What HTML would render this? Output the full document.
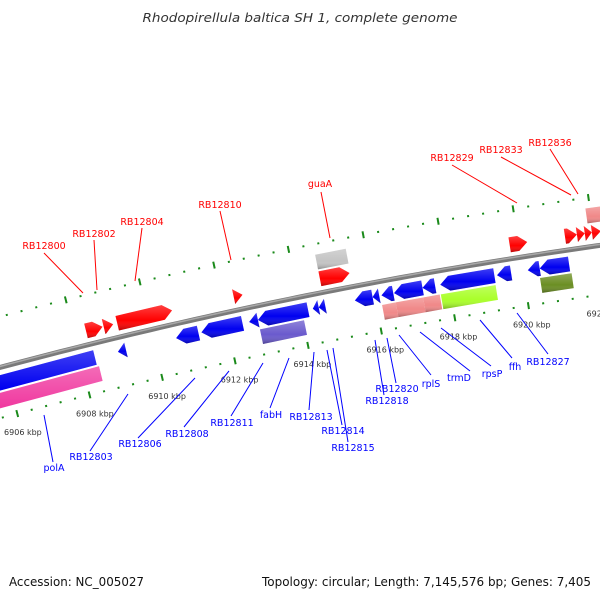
<!DOCTYPE html>
<html><head><meta charset="utf-8"><style>
html,body{margin:0;padding:0;background:#fff;}
svg{display:block;font-family:"DejaVu Sans","Liberation Sans",sans-serif;}
</style></head><body>
<svg id="map" width="600" height="600" viewBox="0 0 600 600" xmlns="http://www.w3.org/2000/svg">
<defs>
<linearGradient id="gshade" x1="0" y1="0" x2="0" y2="1">
<stop offset="0" stop-color="#fff" stop-opacity="0.25"/>
<stop offset="0.6" stop-color="#fff" stop-opacity="0"/>
<stop offset="1" stop-color="#000" stop-opacity="0.3"/>
</linearGradient>
</defs>
<text x="300" y="22" text-anchor="middle" font-size="12" font-style="italic" fill="#333" textLength="315" lengthAdjust="spacingAndGlyphs">Rhodopirellula baltica SH 1, complete genome</text>
<g id="rings"></g>
<g id="backbone"></g>
<g id="genes"></g>
<g id="ticklabels"></g>
<g id="labels"></g>
<text x="9" y="586" font-size="12" fill="#111" textLength="135" lengthAdjust="spacingAndGlyphs">Accession: NC_005027</text>
<text x="591" y="586" text-anchor="end" font-size="12" fill="#111" textLength="329" lengthAdjust="spacingAndGlyphs">Topology: circular; Length: 7,145,576 bp; Genes: 7,405</text>
</svg>
<script>
// gene data (kbp)
const geneStart = [6908.32,6908.80,6909.17,6912.33,6914.66,6919.76,6921.24,6921.56,6921.77,6921.96, 6914.66,6921.88, 6903.0,6909.01,6910.60,6911.29,6912.59,6912.83,6914.32,6914.48,6915.46,6915.94,6916.18,6916.52,6917.29,6917.77,6919.30,6920.13,6920.45, 6903.0,6912.83,6916.15,6916.52,6917.26,6917.74,6920.42];
const geneEnd   = [6908.77,6909.06,6910.66,6912.57,6915.46,6920.23,6921.56,6921.77,6921.96,6922.20, 6915.48,6922.30, 6908.38,6909.23,6911.21,6912.41,6912.83,6914.19,6914.48,6914.66,6915.94,6916.12,6916.50,6917.29,6917.63,6919.23,6919.68,6920.45,6921.24, 6908.43,6914.03,6916.52,6917.26,6917.71,6919.22,6921.27];
const geneTrack = [1,1,1,1,1,1,1,1,1,1, 2,2, -1,-1,-1,-1,-1,-1,-1,-1,-1,-1,-1,-1,-1,-1,-1,-1,-1, -2,-2,-2,-2,-2,-2,-2];
const geneShape = ['f','f','f','f','f','f','f','f','f','f', 'b','b', 'r','r','r','r','r','r','r','r','r','r','r','r','r','r','r','r','r', 'b','b','b','b','b','b','b'];
const geneColor = ['#ff0000','#ff0000','#ff0000','#ff0000','#ff0000','#ff0000','#ff0000','#ff0000','#ff0000','#ff0000', '#c4c4c4','#f08888', '#0000f0','#0000f0','#0000f0','#0000f0','#0000f0','#0000f0','#0000f0','#0000f0','#0000f0','#0000f0','#0000f0','#0000f0','#0000f0','#0000f0','#0000f0','#0000f0','#0000f0', '#f03aa0','#6a5acd','#f08888','#f08888','#f08888','#aaff2a','#6b8e23'];
const tickKbp = [6904,6906,6908,6910,6912,6914,6916,6918,6920,6922];
const tickText = ['6904 kbp','6906 kbp','6908 kbp','6910 kbp','6912 kbp','6914 kbp','6916 kbp','6918 kbp','6920 kbp','6922 kbp'];

const NS='http://www.w3.org/2000/svg';
const CX=1315, CY=5295, R0=5100;
function pt(k, off){
  const th=(-101.5+(k-6914)*0.4235)*Math.PI/180;
  const r=R0+off;
  return [CX+r*Math.cos(th), CY+r*Math.sin(th)];
}
function P(a){return a[0].toFixed(2)+','+a[1].toFixed(2);}
function mk(tag, parent){const e=document.createElementNS(NS,tag);document.getElementById(parent).appendChild(e);return e;}

// backbone
let bb=[];
for(let k=6902;k<=6924;k+=0.25) bb.push(P(pt(k,0)));
const b1=mk('polyline','backbone');


b1.setAttribute('points',bb.join(' '));b1.setAttribute('fill','none');b1.setAttribute('stroke','#7a7a7a');b1.setAttribute('stroke-width','5');
let bb2=[];
for(let k=6902;k<=6924;k+=0.25) bb2.push(P(pt(k,1)));
const b2=mk('polyline','backbone');


b2.setAttribute('points',bb2.join(' '));b2.setAttribute('fill','none');b2.setAttribute('stroke','#a8a8a8');b2.setAttribute('stroke-width','1.5');

// rings: dots every 0.4 kbp, dashes at 2 kbp
[49,-49].forEach(function(off){
  for(let i=0;i<=55;i++){
    const k=6902+i*0.4;
    const isTick=(i%5===0);
    const ln=mk('line','rings');
    
    
    const a=pt(k,off+(isTick?3.5:1)), b=pt(k,off-(isTick?3.5:1));
    ln.setAttribute('x1',a[0]);ln.setAttribute('y1',a[1]);ln.setAttribute('x2',b[0]);ln.setAttribute('y2',b[1]);
    ln.setAttribute('stroke','#1a8a1a');ln.setAttribute('stroke-width',isTick?'2':'2');
  }
});

// tick labels
tickKbp.forEach(function(k,i){
  const p=pt(k,-71);
  const t=mk('text','ticklabels');
  
  
  t.setAttribute('x',p[0].toFixed(1));t.setAttribute('y',p[1].toFixed(1));
  t.setAttribute('text-anchor','middle');t.setAttribute('font-size','8');t.setAttribute('fill','#333');
  t.textContent=tickText[i];
});

// genes
const HH=7.5;
geneStart.forEach(function(s,i){
  const e=geneEnd[i], tr=geneTrack[i], off=(Math.abs(tr)===1?14:31)*Math.sign(tr);
  const h=Math.min(0.24,e-s);
  let pts;
  if(geneShape[i]==='f'){
    const b=e-h;
    pts=[pt(s,off+HH),pt(b,off+HH),pt(e,off),pt(b,off-HH),pt(s,off-HH)];
  }else if(geneShape[i]==='r'){
    const b=s+h;
    pts=[pt(s,off),pt(b,off+HH),pt(e,off+HH),pt(e,off-HH),pt(b,off-HH)];
  }else{
    pts=[pt(s,off+HH),pt(e,off+HH),pt(e,off-HH),pt(s,off-HH)];
  }
  const g=mk('polygon','genes');
  
  
  g.setAttribute('points',pts.map(P).join(' '));g.setAttribute('fill',geneColor[i]);
  const g2=mk('polygon','genes');
  
  
  g2.setAttribute('points',pts.map(P).join(' '));g2.setAttribute('fill','url(#gshade)');
});

// labels: text, cx, baseline, line x1,y1,x2,y2, color
const lab=[
['RB12800',44,249,44,253,83,293,'r'],['RB12802',94,237,94,240,97,290,'r'],['RB12804',142,225,142,228,135,281,'r'],
['RB12810',220,208,220,211,231,260,'r'],['guaA',320,187,321,192,330,238,'r'],['RB12829',452,161,452,165,517,203,'r'],
['RB12833',501,153,501,157,571,195,'r'],['RB12836',550,146,550,149,578,194,'r'],
['polA',54,471,44,415,53,462,'b'],['RB12803',91,460,128,394,90,451,'b'],['RB12806',140,447,195,378,138,438,'b'],
['RB12808',187,437,229,371,184,427,'b'],['RB12811',232,426,263,363,231,416,'b'],['fabH',271,418,289,358,270,408,'b'],
['RB12813',311,420,314,352,309,410,'b'],['RB12814',343,434,327,350,342,425,'b'],['RB12815',353,451,333,348,348,442,'b'],
['RB12818',387,404,375,340,384,395,'b'],['RB12820',397,392,387,338,396,383,'b'],['rplS',431,387,399,335,431,375,'b'],
['trmD',459,381,420,332,470,371,'b'],['rpsP',492,377,441,328,491,366,'b'],['ffh',515,370,480,320,512,358,'b'],
['RB12827',548,365,517,313,548,354,'b']];
lab.forEach(function(L){
  const col=L[7]==='r'?'#ff0000':'#0000ff';
  const ln=mk('line','labels');
  
  
  ln.setAttribute('x1',L[3]);ln.setAttribute('y1',L[4]);ln.setAttribute('x2',L[5]);ln.setAttribute('y2',L[6]);
  ln.setAttribute('stroke',col);ln.setAttribute('stroke-width','1');
  const t=mk('text','labels');
  
  
  t.setAttribute('x',L[1]);t.setAttribute('y',L[2]);t.setAttribute('text-anchor','middle');
  t.setAttribute('font-size','9.5');t.setAttribute('fill',col);
  t.textContent=L[0];
});
</script>
</body></html>
